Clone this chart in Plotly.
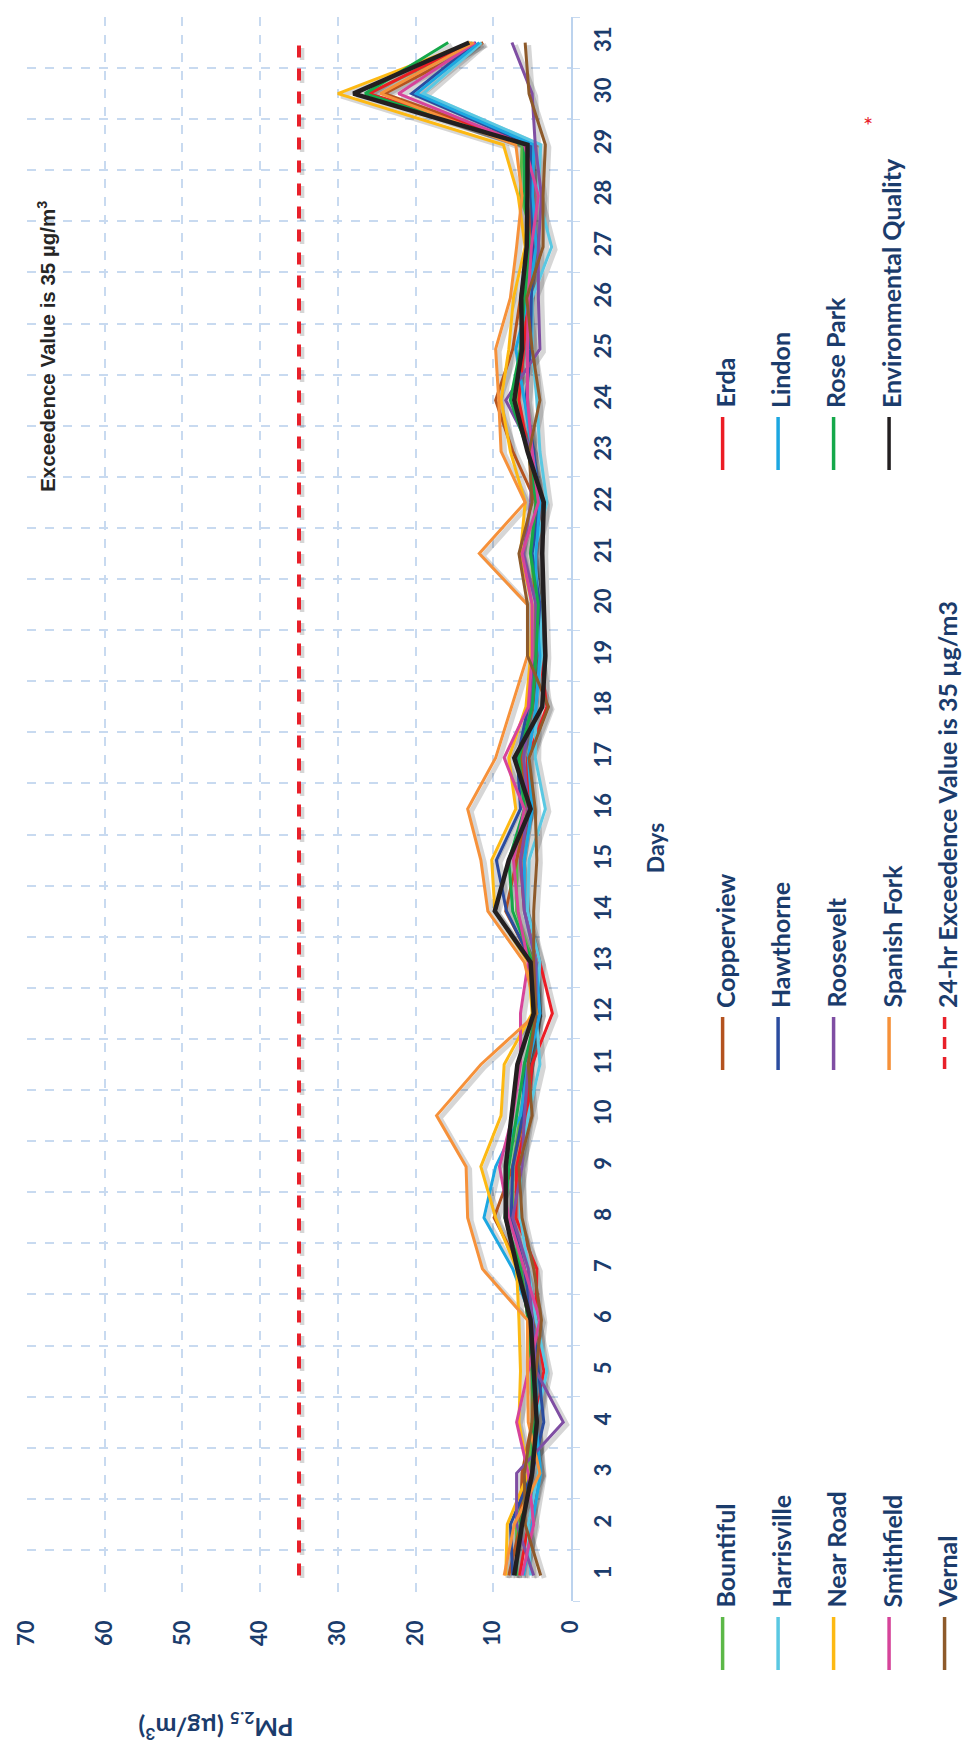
import plotly.graph_objects as go

days = list(range(1, 32))

bountiful = [7.0, 7.0, 5.5, 5.0, 5.0, 5.5, 6.5, 7.5, 7.5, 6.5, 5.5, 4.5, 5.0, 7.0, 7.0, 6.0,
             6.5, 5.6, 4.8, 4.5, 5.2, 4.5, 5.5, 7.0, 6.5, 6.0, 4.5, 6.5, 6.3, 26.0, 12.7]
copperview = [8.0, 6.5, 6.3, 5.0, 5.0, 5.5, 6.5, 9.9, 7.5, 6.0, 5.5, 4.5, 5.0, 8.4, 7.0, 5.5,
              6.5, 5.0, 4.5, 4.5, 5.0, 4.5, 7.5, 9.7, 7.5, 6.5, 5.5, 5.0, 5.4, 24.0, 11.3]
erda = [6.6, 5.5, 4.0, 4.5, 3.5, 4.5, 4.4, 7.1, 7.0, 5.6, 5.0, 2.4, 4.0, 6.0, 6.5, 5.5,
        5.6, 3.1, 4.0, 4.5, 4.5, 4.0, 5.5, 6.7, 6.1, 5.5, 4.8, 4.8, 5.0, 26.0, 12.9]
harrisville = [5.2, 5.5, 4.2, 4.5, 3.1, 4.5, 5.5, 6.5, 6.5, 5.5, 4.0, 4.5, 4.0, 5.6, 5.4, 3.3,
               4.6, 4.5, 3.8, 4.0, 4.8, 3.1, 4.0, 4.4, 5.0, 5.0, 2.5, 4.2, 3.9, 19.0, 11.5]
hawthorne = [7.5, 7.8, 5.0, 3.5, 4.2, 5.0, 6.0, 7.7, 7.5, 6.2, 6.0, 4.0, 5.0, 8.3, 9.6, 6.5,
             6.9, 5.5, 4.5, 4.0, 5.0, 4.0, 4.8, 5.8, 5.2, 5.1, 4.9, 5.1, 5.2, 20.5, 12.2]
lindon = [6.1, 5.0, 3.9, 4.5, 4.5, 5.0, 7.5, 11.2, 9.7, 6.5, 5.5, 4.0, 4.5, 6.0, 6.0, 5.0,
          5.5, 4.5, 4.0, 4.5, 4.5, 4.0, 5.0, 6.0, 7.1, 5.5, 4.5, 4.9, 4.8, 19.9, 11.8]
near_road = [8.4, 8.2, 5.5, 6.7, 6.5, 6.7, 7.0, 9.7, 11.6, 9.0, 8.6, 5.0, 5.5, 9.8, 10.2, 7.1,
             8.0, 5.8, 5.2, 5.0, 6.5, 5.9, 7.8, 9.0, 8.0, 7.4, 5.9, 6.8, 8.7, 30.0, 12.9]
roosevelt = [4.8, 7.0, 7.0, 1.0, 4.5, 5.0, 5.5, 7.5, 6.3, 6.0, 5.5, 4.5, 4.5, 6.0, 6.5, 5.5,
             6.1, 5.2, 4.5, 4.5, 6.1, 5.2, 5.0, 8.4, 4.0, 4.2, 4.2, 3.8, 4.6, 5.0, 7.6]
rose_park = [7.1, 6.5, 5.0, 4.8, 5.0, 5.5, 6.5, 8.5, 8.0, 7.0, 6.0, 4.5, 5.0, 7.5, 8.0, 6.0,
             6.7, 5.0, 4.5, 4.2, 5.2, 4.5, 5.5, 7.8, 6.5, 6.0, 5.3, 6.0, 6.0, 26.5, 15.8]
smithfield = [6.3, 4.8, 5.5, 7.0, 5.5, 4.0, 6.0, 8.0, 9.2, 7.5, 6.5, 6.5, 5.5, 6.8, 7.4, 6.0,
              8.6, 5.5, 5.0, 5.0, 6.3, 4.2, 5.0, 5.6, 5.6, 5.5, 5.1, 4.2, 6.0, 22.2, 12.3]
spanish_fork = [8.6, 7.3, 4.0, 5.5, 5.6, 5.6, 11.4, 13.3, 13.5, 17.3, 11.6, 4.4, 6.0, 10.7, 11.6, 13.3,
                9.7, 7.7, 5.6, 5.6, 11.8, 5.9, 9.0, 9.3, 9.7, 7.8, 7.0, 6.3, 7.1, 24.5, 12.5]
vernal = [3.9, 5.9, 6.0, 5.0, 4.5, 3.8, 4.8, 6.3, 6.7, 5.0, 5.5, 4.5, 4.8, 4.8, 4.4, 4.6,
          5.4, 2.9, 5.6, 5.6, 6.7, 5.0, 5.4, 4.0, 5.0, 5.7, 3.6, 3.6, 3.3, 5.4, 5.9]
env_quality = [7.3, 6.3, 5.0, 4.4, 4.8, 5.2, 6.9, 8.4, 8.4, 7.6, 6.9, 4.8, 5.2, 9.8, 8.0, 5.2,
               7.3, 3.7, 3.3, 3.5, 3.7, 3.5, 5.6, 7.3, 6.3, 6.4, 5.7, 5.6, 5.6, 28.0, 13.1]
exceedence = 35
value_ticks = [0, 10, 20, 30, 40, 50, 60, 70]

stations = [
    ("Bountiful", bountiful, "#5cb848"),
    ("Copperview", copperview, "#b4531f"),
    ("Erda", erda, "#ec1c24"),
    ("Harrisville", harrisville, "#5ac8e2"),
    ("Hawthorne", hawthorne, "#2b4c9f"),
    ("Lindon", lindon, "#1ca7e1"),
    ("Near Road", near_road, "#fdb913"),
    ("Roosevelt", roosevelt, "#7f4ea3"),
    ("Rose Park", rose_park, "#15a84a"),
    ("Smithfield", smithfield, "#d6449a"),
    ("Spanish Fork", spanish_fork, "#f6913a"),
    ("Vernal", vernal, "#8e5a2a"),
]
eq_color = "#231f20"
limit_color = "#e8202a"
navy = "#1b3c6c"

W, H = 968, 1749
ML, MR, MT, MB = 22, 397, 17, 148
PW, PH = W - ML - MR, H - MT - MB


def pxx(x):
    return (x - ML) / PW


def pxy(y):
    return (H - MB - y) / PH


fig = go.Figure()

# soft drop shadow under each series
shadow = "rgba(0,0,0,0.16)"
for name, vals, col in stations + [("Environmental Quality", env_quality, eq_color)]:
    fig.add_trace(go.Scatter(x=[v - 0.45 for v in vals], y=[d - 0.05 for d in days],
                             mode="lines", line=dict(color=shadow, width=5),
                             hoverinfo="skip", showlegend=False))
fig.add_trace(go.Scatter(x=[exceedence - 0.4] * len(days), y=[d - 0.05 for d in days],
                         mode="lines", line=dict(color=shadow, width=4.5, dash="12px,11px"),
                         hoverinfo="skip", showlegend=False))

fig.add_trace(go.Scatter(x=[exceedence] * len(days), y=days, mode="lines",
                         line=dict(color=limit_color, width=4, dash="12px,11px"),
                         name="24-hr Exceedence Value is 35 µg/m3", showlegend=False))

for name, vals, col in stations:
    fig.add_trace(go.Scatter(x=vals, y=days, mode="lines", name=name,
                             line=dict(color=col, width=3), showlegend=False))
fig.add_trace(go.Scatter(x=env_quality, y=days, mode="lines", name="Environmental Quality",
                         line=dict(color=eq_color, width=4.5), showlegend=False))

grid = "#c8daf0"
fig.update_xaxes(range=[70, 0], tickvals=value_ticks, tickangle=-90,
                 showgrid=True, gridcolor=grid, griddash="dash", gridwidth=1.5,
                 zeroline=False, showline=False, ticks="",
                 tickfont=dict(family="Lato", size=22, color=navy, weight="bold"),
                 ticklabelstandoff=14)
fig.update_yaxes(range=[0.5, 31.5], side="right", tickvals=days, tickangle=-90,
                 showgrid=False, zeroline=False, showline=True, linecolor="#bcd3ee",
                 linewidth=1.5, ticks="",
                 minor=dict(tick0=0.5, dtick=1, showgrid=True, gridcolor=grid,
                            griddash="dash", gridwidth=1.5, ticks="outside",
                            ticklen=7, tickcolor=grid),
                 tickfont=dict(family="Lato", size=22, color=navy, weight="bold"),
                 ticklabelstandoff=12)

annotations = [
    dict(text="Days", x=pxx(656), y=pxy(848), textangle=-90,
         font=dict(family="Lato", size=23, color=navy, weight="bold")),
    dict(text="PM<sub>2.5</sub> (µg/m<sup>3</sup>)", x=pxx(213), y=pxy(1727), textangle=180,
         font=dict(family="Lato", size=25, color=navy, weight="bold")),
    dict(text="Exceedence Value is 35 µg/m<sup>3</sup>", x=pxx(42), y=pxy(346), textangle=-90,
         font=dict(family="Liberation Sans", size=20.5, color="#262626", weight="bold")),
    dict(text="*", x=pxx(871), y=pxy(124), font=dict(family="Lato", size=24, color=limit_color)),
]
for a in annotations:
    a["xanchor"] = "center"
    a["yanchor"] = "middle"

legend_rows = [724, 780, 836, 892, 948]
legend_cols = [1610, 1010, 410]
legend_items = [
    [("Bountiful", "#5cb848"), ("Harrisville", "#5ac8e2"), ("Near Road", "#fdb913"),
     ("Smithfield", "#d6449a"), ("Vernal", "#8e5a2a")],
    [("Copperview", "#b4531f"), ("Hawthorne", "#2b4c9f"), ("Roosevelt", "#7f4ea3"),
     ("Spanish Fork", "#f6913a"), ("24-hr Exceedence Value is 35 µg/m3", limit_color)],
    [("Erda", "#ec1c24"), ("Lindon", "#1ca7e1"), ("Rose Park", "#15a84a"),
     ("Environmental Quality", eq_color)],
]

shapes = []
for c, items in enumerate(legend_items):
    base = legend_cols[c]
    for r, (label, col) in enumerate(items):
        x = legend_rows[r]
        dash = "solid"
        if label.startswith("24-hr"):
            dash = "12px,8px"
        shapes.append(dict(type="line", xref="paper", yref="paper",
                           x0=pxx(x), x1=pxx(x), y0=pxy(base + 7), y1=pxy(base + 60),
                           line=dict(color=col, width=3.5, dash=dash)))
        annotations.append(dict(text=label, x=pxx(x + 2), y=pxy(base), textangle=-90,
                                xanchor="center", yanchor="bottom",
                                font=dict(family="Lato", size=25, color=navy, weight="bold")))

for a in annotations:
    a.setdefault("xref", "paper")
    a.setdefault("yref", "paper")
    a.setdefault("showarrow", False)

fig.update_layout(width=W, height=H, margin=dict(l=ML, r=MR, t=MT, b=MB),
                  plot_bgcolor="white", paper_bgcolor="white", showlegend=False,
                  annotations=annotations, shapes=shapes)

fig.write_html("out.html")
